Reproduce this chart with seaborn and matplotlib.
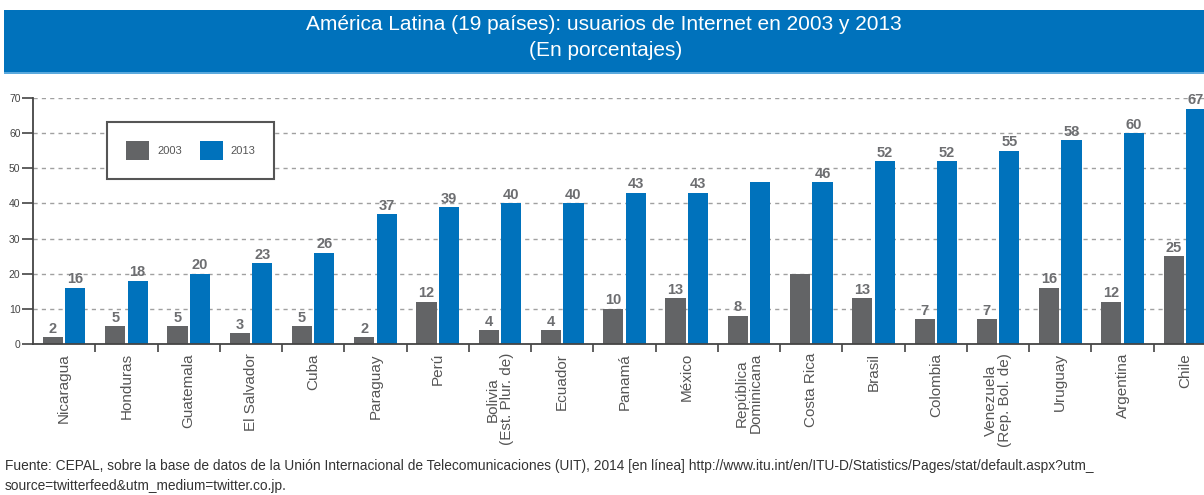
import matplotlib
matplotlib.use('Agg')
import matplotlib.pyplot as plt
import seaborn as sns
import pandas as pd
import numpy as np
from matplotlib.patches import Rectangle

# ---------------- data ----------------
countries = ["Nicaragua", "Honduras", "Guatemala", "El Salvador", "Cuba", "Paraguay",
             "Perú", "Bolivia\n(Est. Plur. de)", "Ecuador", "Panamá", "México",
             "República\nDominicana", "Costa Rica", "Brasil", "Colombia",
             "Venezuela\n(Rep. Bol. de)", "Uruguay", "Argentina", "Chile"]
years = ["2003", "2013"]
v2003 = [2, 5, 5, 3, 5, 2, 12, 4, 4, 10, 13, 8, 20, 13, 7, 7, 16, 12, 25]
v2013 = [16, 18, 20, 23, 26, 37, 39, 40, 40, 43, 43, 46, 46, 52, 52, 55, 58, 60, 67]
labels2003 = ["2", "5", "5", "3", "5", "2", "12", "4", "4", "10", "13", "8", "",
              "13", "7", "7", "16", "12", "25"]
labels2013 = ["16", "18", "20", "23", "26", "37", "39", "40", "40", "43", "43", "",
              "46", "52", "52", "55", "58", "60", "67"]
yticks = [0, 10, 20, 30, 40, 50, 60, 70]

title1 = "América Latina (19 países): usuarios de Internet en 2003 y 2013"
title2 = "(En porcentajes)"
foot1 = ("Fuente: CEPAL, sobre la base de datos de la Unión Internacional de Telecomunicaciones (UIT), "
         "2014 [en línea] http://www.itu.int/en/ITU-D/Statistics/Pages/stat/default.aspx?utm_")
foot2 = "source=twitterfeed&utm_medium=twitter.co.jp."

df = pd.DataFrame({
    "country": countries * 2,
    "year": [years[0]] * len(countries) + [years[1]] * len(countries),
    "value": v2003 + v2013,
})

# ---------------- style ----------------
sns.set_style("white")
plt.rcParams['font.family'] = ['Liberation Sans', 'DejaVu Sans']

GRAY = "#636466"
BLUE = "#0072BC"
W, H = 1204, 495

fig = plt.figure(figsize=(W / 100, H / 100), dpi=100)

# header band
fig.patches.append(Rectangle((4 / W, 1 - 72 / H), 1.0, 62 / H, transform=fig.transFigure,
                             facecolor=BLUE, edgecolor="none", zorder=0))
fig.patches.append(Rectangle((4 / W, 1 - 74 / H), 1.0, 2 / H, transform=fig.transFigure,
                             facecolor="#5aa9dd", edgecolor="none", zorder=0))
fig.text(604 / W, 1 - 25 / H, title1, color="white", fontsize=15, ha="center", va="center")
fig.text(606 / W, 1 - 51 / H, title2, color="white", fontsize=15, ha="center", va="center")

ax = fig.add_axes([33 / W, 151 / H, 1183 / W, 246 / H])

sns.barplot(data=df, x="country", y="value", hue="year", order=countries, hue_order=years,
            palette={"2003": GRAY, "2013": BLUE}, width=0.72, gap=0.1, saturation=1,
            linewidth=0, ax=ax, errorbar=None)

ax.set_xlim(-0.5, len(countries) - 0.5)
ax.set_ylim(yticks[0], yticks[-1])
ax.set_xlabel("")
ax.set_ylabel("")

# value labels
lab_kw = dict(padding=1, fontsize=10.5, fontweight="bold", color="#6d6e71")
ax.bar_label(ax.containers[0], labels=labels2003, **lab_kw)
ax.bar_label(ax.containers[1], labels=labels2013, **lab_kw)

# spines
for s in ["top", "right"]:
    ax.spines[s].set_visible(False)
for s in ["left", "bottom"]:
    ax.spines[s].set_color("#444444")
    ax.spines[s].set_linewidth(1.3)

# grid
ax.set_axisbelow(True)
ax.set_yticks(yticks)
ax.yaxis.grid(True, linestyle=(0, (3, 3)), color="#a0a0a0", linewidth=1.0)
ax.xaxis.grid(False)

# ticks
ax.tick_params(axis="y", length=8, width=1.2, color="#444444", labelsize=7.5,
               labelcolor="#444444", pad=1, left=True)
ax.set_xticks(np.arange(len(countries)))
ax.set_xticks(np.arange(len(countries) - 1) + 0.5, minor=True)
ax.tick_params(axis="x", which="major", length=0, pad=6.5)
ax.tick_params(axis="x", which="minor", length=6, width=1.2, color="#444444", bottom=True)
ax.set_xticklabels(countries, rotation=90, fontsize=11, color="#555555",
                   ha="center", va="top", multialignment="center", linespacing=1.0)

# legend
handles, labels = ax.get_legend_handles_labels()
if ax.get_legend() is not None:
    ax.get_legend().remove()
leg = ax.legend(handles, labels, ncol=2, loc="upper left",
                bbox_to_anchor=(107 / W, 1 - 122 / H), bbox_transform=fig.transFigure,
                frameon=True, fancybox=False, edgecolor="#555555", framealpha=1,
                fontsize=8, handlelength=2.1, handleheight=2.3, handletextpad=0.7,
                columnspacing=1.6, borderpad=1.7, borderaxespad=0)
leg.get_frame().set_linewidth(1.5)
for t in leg.get_texts():
    t.set_color("#555555")

# footer
fig.text(5 / W, 1 - 466 / H, foot1, fontsize=9.9, color="#333333", ha="left", va="center")
fig.text(5 / W, 1 - 486 / H, foot2, fontsize=9.9, color="#333333", ha="left", va="center")

fig.savefig("out.png", dpi=100)
